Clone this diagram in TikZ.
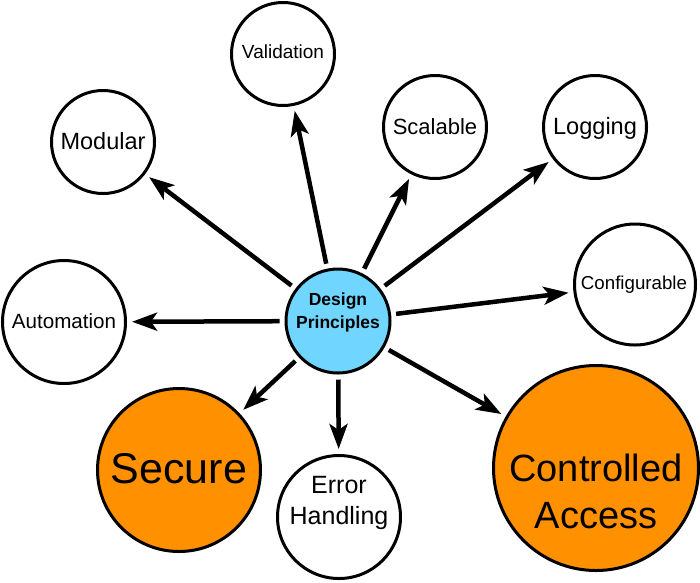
\documentclass[tikz,border=0pt]{standalone}
\usepackage{fontspec}
\setmainfont{Liberation Sans}
\usetikzlibrary{arrows.meta}
\definecolor{dpblue}{HTML}{70D6FF}
\definecolor{accorange}{HTML}{FF9100}
\begin{document}
\begin{tikzpicture}[x=1pt,y=-1pt,
 circ/.style={circle,draw=black,line width=3pt,fill=white,inner sep=0pt},
 lbl/.style={anchor=base,inner sep=0pt,text=black},
 conn/.style={line width=4.5pt,-{Stealth[length=25pt,width=18pt,inset=6pt]},shorten <=5pt,shorten >=5pt}]
\useasboundingbox (0,0) rectangle (700,582);
% circles
\node[circ,fill=dpblue,minimum size=104pt] (dp) at (338,321) {};
\node[circ,minimum size=103pt] (val) at (283,54) {};
\node[circ,minimum size=103pt] (mod) at (103,142) {};
\node[circ,minimum size=103pt] (sca) at (435,127) {};
\node[circ,minimum size=103pt] (log) at (595,127) {};
\node[circ,minimum size=121pt] (conf) at (635,284.5) {};
\node[circ,minimum size=123pt] (auto) at (64,322) {};
\node[circ,fill=accorange,minimum size=163pt] (sec) at (179,470) {};
\node[circ,minimum size=123pt] (err) at (339,517) {};
\node[circ,fill=accorange,minimum size=205pt] (ca) at (596,468) {};
% labels
\node[lbl,font=\bfseries\fontsize{17.5}{21}\selectfont] (dpt1) at (338,305.8) {Design};
\node[lbl,font=\bfseries\fontsize{17.5}{21}\selectfont] (dpt2) at (338,328) {Principles};
\node[lbl,font=\fontsize{19}{23}\selectfont] (valt) at (283,58.8) {Validation};
\node[lbl,font=\fontsize{23.5}{28}\selectfont] (modt) at (103,149.4) {Modular};
\node[lbl,font=\fontsize{22}{26}\selectfont] (scat) at (435,134.2) {Scalable};
\node[lbl,font=\fontsize{23.6}{28}\selectfont] (logt) at (595,134.7) {Logging};
\node[lbl,font=\fontsize{18.7}{22}\selectfont] (conft) at (634,289.2) {Configurable};
\node[lbl,font=\fontsize{20.6}{25}\selectfont] (autot) at (64,328.9) {Automation};
\node[lbl,font=\fontsize{43}{52}\selectfont] (sect) at (179,483.9) {Secure};
\node[lbl,font=\fontsize{25}{30}\selectfont] (errt1) at (339,493.5) {Error};
\node[lbl,font=\fontsize{25}{30}\selectfont] (errt2) at (339,524) {Handling};
\node[lbl,font=\fontsize{38}{46}\selectfont] (cat1) at (596,481.9) {Controlled};
\node[lbl,font=\fontsize{38}{46}\selectfont] (cat2) at (596,528.6) {Access};
% connectors
\draw[conn] (dp) -- (val);
\draw[conn] (dp) -- (mod);
\draw[conn] (dp) -- (sca);
\draw[conn] (dp) -- (log);
\draw[conn] (dp) -- (conf);
\draw[conn] (dp) -- (auto);
\draw[conn] (dp) -- (sec);
\draw[conn] (dp) -- (err);
\draw[conn] (dp) -- (ca);
\end{tikzpicture}
\end{document}
